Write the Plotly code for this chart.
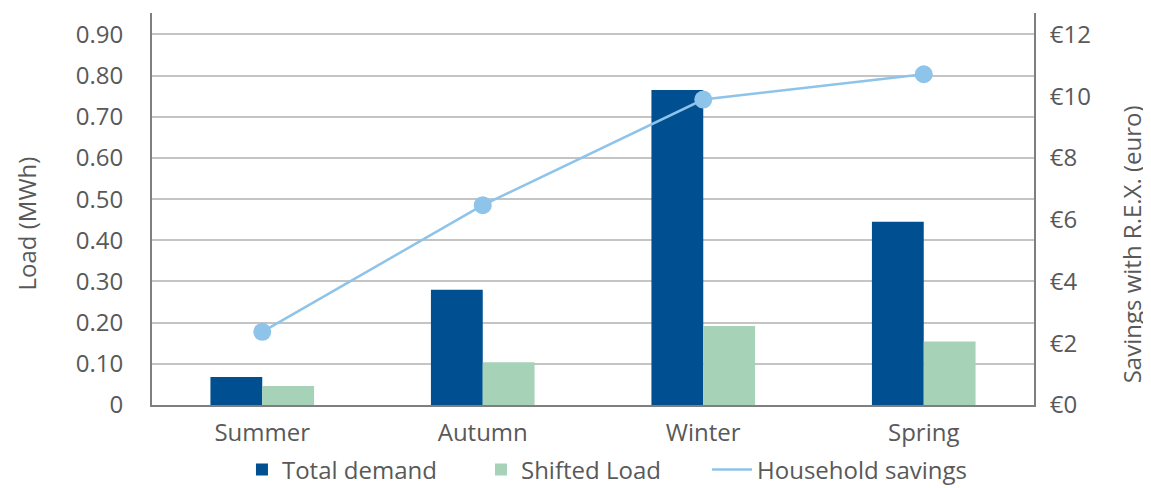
import plotly.graph_objects as go

seasons = ["Summer", "Autumn", "Winter", "Spring"]
total_demand = [0.068, 0.28, 0.765, 0.445]
shifted_load = [0.046, 0.104, 0.192, 0.154]
household_savings = [2.37, 6.47, 9.89, 10.71]

left_ticks = [0, 0.1, 0.2, 0.3, 0.4, 0.5, 0.6, 0.7, 0.8, 0.9]
left_labels = ["0", "0.10", "0.20", "0.30", "0.40", "0.50", "0.60", "0.70", "0.80", "0.90"]
right_ticks = [0, 2, 4, 6, 8, 10, 12]
right_labels = ["€0", "€2", "€4", "€6", "€8", "€10", "€12"]

FONT = "Open Sans, DejaVu Sans, sans-serif"
GREY = "#595959"
FS = 24

fig = go.Figure()
fig.add_trace(go.Bar(x=seasons, y=total_demand, name="Total demand", legend="legend",
                     marker=dict(color="#004f91", line=dict(width=0))))
fig.add_trace(go.Bar(x=seasons, y=shifted_load, name="Shifted Load", legend="legend2",
                     marker=dict(color="#a6d3b7", line=dict(width=0))))
fig.add_trace(go.Scatter(x=seasons, y=household_savings, yaxis="y2", mode="lines+markers",
                         line=dict(color="#8ec3ea", width=2.5),
                         marker=dict(size=18, color="#8ec3ea"), showlegend=False,
                         name="Household savings"))
fig.add_trace(go.Scatter(x=[None], y=[None], yaxis="y2", mode="lines", legend="legend3",
                         line=dict(color="#8ec3ea", width=2.5), name="Household savings"))

legend_common = dict(orientation="h", yref="container", y=0.0375, yanchor="middle",
                     xanchor="left", font=dict(size=FS, color=GREY),
                     bgcolor="rgba(0,0,0,0)")

# page body has an 8px margin: figure drawn at (8, 8)
fig.update_layout(
    width=1143, height=480,
    margin=dict(l=144, r=117, t=5, b=83, autoexpand=False),
    plot_bgcolor="white", paper_bgcolor="white",
    barmode="group", bargap=0.53, bargroupgap=0,
    font=dict(family=FONT, size=FS, color=GREY),
    xaxis=dict(range=[-0.5, 3.5], showline=True, linecolor="#7f7f7f", linewidth=2,
               ticks="", tickfont=dict(size=FS, color=GREY), showgrid=False,
               automargin=False, ticklabelstandoff=5),
    yaxis=dict(range=[0, 0.952], tickvals=left_ticks, ticktext=left_labels,
               showline=True, linecolor="#7f7f7f", linewidth=2,
               showgrid=True, gridcolor="#c4c4c4", gridwidth=1.5,
               tickfont=dict(size=FS, color=GREY), ticks="", ticklabelstandoff=22,
               zeroline=False, automargin=False),
    yaxis2=dict(range=[0, 12.693], tickvals=right_ticks, ticktext=right_labels,
                overlaying="y", side="right", showline=True, linecolor="#7f7f7f", linewidth=2,
                showgrid=False, zeroline=False, tickfont=dict(size=FS, color=GREY),
                ticklabelstandoff=9, automargin=False),
    legend=dict(x=0.102, itemwidth=30, **legend_common),
    legend2=dict(x=0.373, itemwidth=30, **legend_common),
    legend3=dict(x=0.6293, itemwidth=40, **legend_common),
    annotations=[
        dict(text="Load (MWh)", textangle=-90, xref="paper", yref="paper",
             x=-0.16327, y=0.4643, xanchor="left", yanchor="middle", showarrow=False,
             font=dict(size=FS, color=GREY)),
        dict(text="Savings with R.E.X. (euro)", textangle=-90, xref="paper", yref="paper",
             x=1.110, y=0.41, xanchor="center", yanchor="middle", showarrow=False,
             font=dict(size=FS, color=GREY)),
    ],
)

fig.write_html("out.html")
